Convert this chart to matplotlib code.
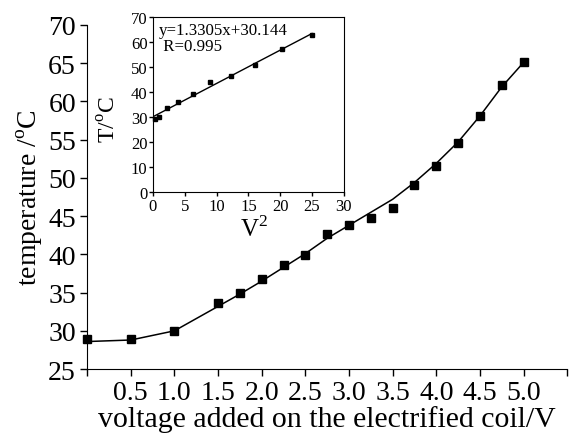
import numpy as np
import matplotlib.pyplot as plt

plt.rcParams['font.family'] = ['Liberation Serif', 'DejaVu Serif']
plt.rcParams['mathtext.fontset'] = 'custom'
plt.rcParams['mathtext.rm'] = 'Liberation Serif'

# main plot: measured temperature vs coil voltage
voltage = [0.0, 0.5, 1.0, 1.5, 1.75, 2.0, 2.25, 2.5, 2.75, 3.0, 3.25, 3.5,
           3.75, 4.0, 4.25, 4.5, 4.75, 5.0]
temp = [28.9, 28.9, 30.0, 33.6, 34.9, 36.8, 38.6, 39.9, 42.7, 43.9, 44.8, 46.1,
        49.1, 51.6, 54.5, 58.1, 62.1, 65.1]
# smooth guide curve as drawn in the figure
curve = [28.6, 28.8, 30.0, 33.2, 34.8, 36.5, 38.3, 40.1, 42.1, 43.8, 45.5, 47.2,
         49.4, 51.9, 54.7, 58.1, 61.9, 65.1]

# inset: T vs V^2
v_sq = [0.25, 1.0, 2.25, 4.0, 6.25, 9.0, 12.25, 16.0, 20.25, 25.0]
t_inset = [29.2, 29.9, 33.5, 36.1, 39.2, 43.9, 46.3, 50.9, 57.2, 62.8]
slope, intercept = 1.3305, 30.144

fig = plt.figure(figsize=(5.73, 4.39), dpi=100)
ax = fig.add_axes([0.152, 0.157, 0.838, 0.784])
ax.plot(voltage, curve, color='k', lw=1.1, clip_on=False)
ax.plot(voltage, temp, 's', color='k', ms=5.5, clip_on=False)
ax.set_xlim(0, 5.5)
ax.set_ylim(25, 70)
xt = np.arange(0, 5.51, 0.5)
ax.set_xticks(xt)
ax.set_xticklabels(['' if (v == 0 or v == 5.5) else f'{v:.1f}' for v in xt])
ax.set_yticks(range(25, 71, 5))
ax.spines['top'].set_visible(False)
ax.spines['right'].set_visible(False)
ax.tick_params(direction='out', length=5, width=1, labelsize=20, pad=3)
ax.set_xlabel('voltage added on the electrified coil/V', fontsize=21.5, labelpad=0)
ax.set_ylabel('temperature /$^{\\rm o}$C', fontsize=20, labelpad=2)

ins = fig.add_axes([0.267, 0.560, 0.333, 0.399])
fx = np.array([0, 25])
ins.plot(fx, slope * fx + intercept, color='k', lw=1.0)
ins.plot(v_sq, t_inset, 's', color='k', ms=3.2, clip_on=False)
ins.set_xlim(0, 30)
ins.set_ylim(0, 70)
ins.set_xticks(range(0, 31, 5))
ins.set_yticks(range(0, 71, 10))
ins.tick_params(direction='out', length=3, width=1, labelsize=12, pad=1)
ins.set_xlabel('V$^2$', fontsize=18)
ins.xaxis.set_label_coords(0.53, -0.13)
ins.set_ylabel('T/$^{\\rm o}$C', fontsize=17)
ins.yaxis.set_label_coords(-0.17, 0.42)
ins.text(0.03, 0.97, 'y=1.3305x+30.144\n R=0.995', transform=ins.transAxes,
         ha='left', va='top', fontsize=12.2, linespacing=0.95)

fig.savefig('out.png', dpi=100)
